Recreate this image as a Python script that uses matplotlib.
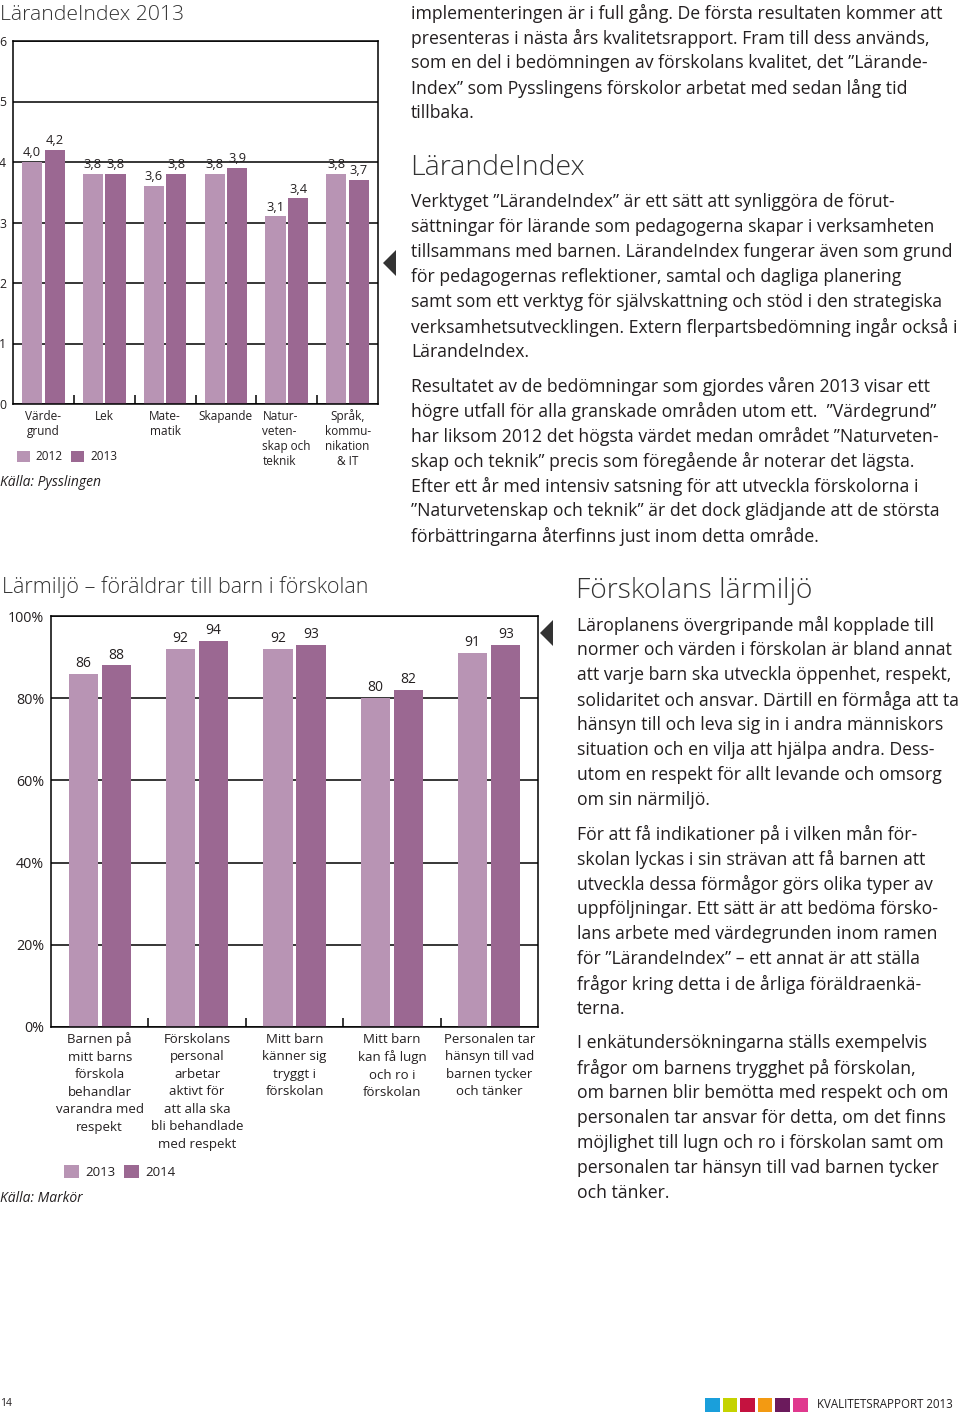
import matplotlib
matplotlib.use('Agg')
import matplotlib.pyplot as plt
from matplotlib.patches import Polygon, Rectangle
import numpy as np

plt.rcParams['font.family'] = ['Open Sans', 'DejaVu Sans']

W, H = 960, 1420

# LärandeIndex 2013 (Källa: Pysslingen)
li_categories = ['Värde-\ngrund', 'Lek', 'Mate-\nmatik', 'Skapande',
                 'Natur-\nveten-\nskap och\nteknik', 'Språk,\nkommu-\nnikation\n& IT']
li_2012 = [4.0, 3.8, 3.6, 3.8, 3.1, 3.8]
li_2013 = [4.2, 3.8, 3.8, 3.9, 3.4, 3.7]
li_years = ['2012', '2013']
li_yticks = [0, 1, 2, 3, 4, 5, 6]

# Lärmiljö – föräldrar till barn i förskolan (Källa: Markör)
lm_categories = ['Barnen på\nmitt barns\nförskola\nbehandlar\nvarandra med\nrespekt',
                 'Förskolans\npersonal\narbetar\naktivt för\natt alla ska\nbli behandlade\nmed respekt',
                 'Mitt barn\nkänner sig\ntryggt i\nförskolan',
                 'Mitt barn\nkan få lugn\noch ro i\nförskolan',
                 'Personalen tar\nhänsyn till vad\nbarnen tycker\noch tänker']
lm_2013 = [86, 92, 92, 80, 91]
lm_2014 = [88, 94, 93, 82, 93]
lm_years = ['2013', '2014']
lm_yticks = [0, 20, 40, 60, 80, 100]

footer_colors = ['#1a9fdb', '#c5d300', '#c4123f', '#f39a12', '#6b1a5c', '#e0398e']

LIGHT = '#b894b4'
DARK = '#9b6892'
TXT = '#231f20'

fig = plt.figure(figsize=(W / 100, H / 100), dpi=100)


def box(x0, y0, x1, y1):
    # pixel box (top-left origin) -> figure fraction rect
    return [x0 / W, 1 - y1 / H, (x1 - x0) / W, (y1 - y0) / H]


def put(x, y, s, **kw):
    kw.setdefault('color', TXT)
    kw.setdefault('va', 'center')
    fig.text(x / W, 1 - y / H, s, **kw)


def bar_chart(rect, cats, a, b, years, yticks, width, offset, ylab, vlab, fs, yfs, vfs,
              lsp, legend_xy):
    ax = fig.add_axes(rect)
    x = np.arange(len(cats)) + 0.5
    b1 = ax.bar(x - offset, a, width, color=LIGHT, label=years[0], zorder=2)
    b2 = ax.bar(x + offset, b, width, color=DARK, label=years[1], zorder=2)
    ax.set_xlim(0, len(cats))
    ax.set_ylim(yticks[0], yticks[-1])
    ax.set_yticks(yticks)
    ax.set_yticklabels([ylab(v) for v in yticks], fontsize=yfs, color=TXT)
    ax.set_xticks(x)
    ax.set_xticklabels(cats, fontsize=fs, color=TXT, linespacing=lsp, va='top')
    ax.set_xticks(np.arange(1, len(cats)), minor=True)
    ax.tick_params(axis='y', length=0, pad=5)
    ax.tick_params(axis='x', which='major', length=0, pad=4)
    ax.tick_params(axis='x', which='minor', direction='in', length=6.5, width=1.1, color='black')
    ax.grid(axis='y', color='black', lw=1.1, zorder=1)
    ax.set_axisbelow(True)
    for s in ax.spines.values():
        s.set_color('black')
        s.set_linewidth(1.1)
    ax.bar_label(b1, labels=[vlab(v) for v in a], padding=2, fontsize=vfs, color=TXT)
    ax.bar_label(b2, labels=[vlab(v) for v in b], padding=2, fontsize=vfs, color=TXT)
    ax.legend(handles=[b1, b2], loc='center left',
              bbox_to_anchor=(legend_xy[0] / W, 1 - legend_xy[1] / H),
              bbox_transform=fig.transFigure, ncol=2, frameon=False,
              handlelength=1.1, handleheight=1.1, handletextpad=0.5,
              columnspacing=0.7, borderpad=0, borderaxespad=0, fontsize=fs,
              labelcolor=TXT)
    return ax


# --- top chart
put(0, 15, 'LärandeIndex 2013', fontsize=15.2, fontweight='light', color='#333333')
ax1 = bar_chart(box(13, 41, 378, 404), li_categories, li_2012, li_2013, li_years,
                li_yticks, 0.33, 0.185,
                lambda v: f'{v}', lambda v: f'{v:.1f}'.replace('.', ','),
                8.5, 8.8, 9.3, 1.2, (17, 457))
ax1.get_xticklabels()[4].set_multialignment('left')
put(0, 483, 'Källa: Pysslingen', fontsize=10, style='italic')

# --- bottom chart
put(2, 587, 'Lärmiljö – föräldrar till barn i förskolan', fontsize=15.5, fontweight='light',
    color='#333333')
ax2 = bar_chart(box(51, 616, 538, 1027), lm_categories, lm_2013, lm_2014, lm_years,
                lm_yticks, 0.30, 0.17,
                lambda v: f'{v}%', lambda v: f'{v}',
                9.5, 10.3, 10, 1.45, (64, 1172))
put(0, 1198, 'Källa: Markör', fontsize=10, style='italic')

# arrows pointing to the charts
for tri in ([(383, 263), (396, 250), (396, 276)], [(540, 633), (553, 620), (553, 646)]):
    fig.add_artist(Polygon([(px / W, 1 - py / H) for px, py in tri], closed=True,
                           transform=fig.transFigure, color='#333333', lw=0))

# --- right column text
BODY = 12.7
top_para0 = [
    'implementeringen är i full gång. De första resultaten kommer att',
    'presenteras i nästa års kvalitetsrapport. Fram till dess används,',
    'som en del i bedömningen av förskolans kvalitet, det ”Lärande-',
    'Index” som Pysslingens förskolor arbetat med sedan lång tid',
    'tillbaka.',
]
top_para1 = [
    'Verktyget ”LärandeIndex” är ett sätt att synliggöra de förut-',
    'sättningar för lärande som pedagogerna skapar i verksamheten',
    'tillsammans med barnen. LärandeIndex fungerar även som grund',
    'för pedagogernas reflektioner, samtal och dagliga planering',
    'samt som ett verktyg för självskattning och stöd i den strategiska',
    'verksamhetsutvecklingen. Extern flerpartsbedömning ingår också i',
    'LärandeIndex.',
]
top_para2 = [
    'Resultatet av de bedömningar som gjordes våren 2013 visar ett',
    'högre utfall för alla granskade områden utom ett.  ”Värdegrund”',
    'har liksom 2012 det högsta värdet medan området ”Naturveten-',
    'skap och teknik” precis som föregående år noterar det lägsta.',
    'Efter ett år med intensiv satsning för att utveckla förskolorna i',
    '”Naturvetenskap och teknik” är det dock glädjande att de största',
    'förbättringarna återfinns just inom detta område.',
]
bot_para0 = [
    'Läroplanens övergripande mål kopplade till',
    'normer och värden i förskolan är bland annat',
    'att varje barn ska utveckla öppenhet, respekt,',
    'solidaritet och ansvar. Därtill en förmåga att ta',
    'hänsyn till och leva sig in i andra människors',
    'situation och en vilja att hjälpa andra. Dess-',
    'utom en respekt för allt levande och omsorg',
    'om sin närmiljö.',
]
bot_para1 = [
    'För att få indikationer på i vilken mån för-',
    'skolan lyckas i sin strävan att få barnen att',
    'utveckla dessa förmågor görs olika typer av',
    'uppföljningar. Ett sätt är att bedöma försko-',
    'lans arbete med värdegrunden inom ramen',
    'för ”LärandeIndex” – ett annat är att ställa',
    'frågor kring detta i de årliga föräldraenkä-',
    'terna.',
]
bot_para2 = [
    'I enkätundersökningarna ställs exempelvis',
    'frågor om barnens trygghet på förskolan,',
    'om barnen blir bemötta med respekt och om',
    'personalen tar ansvar för detta, om det finns',
    'möjlighet till lugn och ro i förskolan samt om',
    'personalen tar hänsyn till vad barnen tycker',
    'och tänker.',
]


def para(x, y0, lines):
    for i, s in enumerate(lines):
        put(x, y0 + 25 * i, s, fontsize=BODY)


para(411, 13, top_para0)
put(410, 168, 'LärandeIndex', fontsize=20.5, fontweight='light', color='#333333')
para(411, 202, top_para1)
para(411, 386, top_para2)

put(576, 591, 'Förskolans lärmiljö', fontsize=20.3, fontweight='light', color='#333333')
para(577, 625, bot_para0)
para(577, 834, bot_para1)
para(577, 1043, bot_para2)

# --- footer
put(0, 1403, '14', fontsize=7.5)
for i, c in enumerate(footer_colors):
    x0 = 705 + i * 17.6
    fig.add_artist(Rectangle((x0 / W, 1 - 1412 / H), 14.5 / W, 14 / H,
                             transform=fig.transFigure, color=c, lw=0))
put(817, 1404, 'KVALITETSRAPPORT 2013', fontsize=8.3)

fig.savefig('out.png', dpi=100)
